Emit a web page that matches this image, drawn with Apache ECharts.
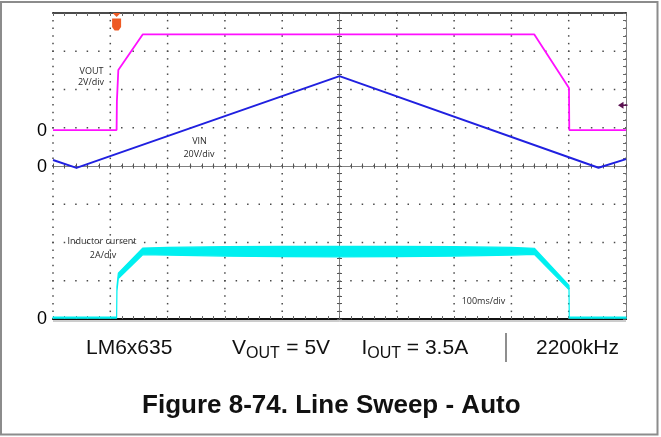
<!DOCTYPE html>
<html>
<head>
<meta charset="utf-8">
<script src="https://cdn.jsdelivr.net/npm/echarts@6/dist/echarts.min.js"></script>
<style>
  html, body { margin: 0; padding: 0; background: #fff; }
  #chart { width: 661px; height: 437px; }
</style>
</head>
<body>
<div id="chart"></div>
<script>
// Scope capture: line sweep, auto mode. Time base 100 ms/div, 10 divisions.

// VOUT trace (2 V/div)
const voutTime  = [0, 111, 111.5, 114, 156.5, 840, 900.5, 901, 1000];
const voutVolts = [0, 0, 1.5, 3.14, 5.0, 5.0, 2.2, 0, 0];

// VIN trace (20 V/div)
const vinTime  = [0, 41, 500, 952, 1000];
const vinVolts = [3.1, -1.0, 47, -0.9, 3.6];

// Inductor current (2 A/div): ripple envelope, upper and lower edge
const ilTime  = [0, 111, 111.6, 114, 156.5, 200, 300, 400, 500, 600, 700, 800, 840, 900.5, 901, 1000];
const ilUpper = [0.03, 0.03, 1.62, 2.32, 3.64, 3.67, 3.71, 3.73, 3.73, 3.73, 3.71, 3.67, 3.63, 1.68, 0.03, 0.03];
const ilLower = [-0.03, -0.03, 1.4, 2.05, 3.29, 3.27, 3.22, 3.19, 3.18, 3.19, 3.22, 3.27, 3.31, 1.47, -0.03, -0.03];

// Trigger position (ms) and trigger level (V, on VOUT)
const TRIG_TIME = 111;
const TRIG_LEVEL = 1.3;

// Screen graticule: 10 x 8 divisions, 5 minor steps per division
const MS_PER_DIV = 100;
const DIVS_X = 10;
const DIVS_Y = 8;
const MINOR = 5;

// Channel scales: [min, max] of each channel over the 8 vertical divisions
const VOUT_RANGE = [-9.88, 6.12];
const VIN_RANGE  = [-80, 80];
const IL_RANGE   = [-0.07, 15.93];
const VIN_PER_DIV = (VIN_RANGE[1] - VIN_RANGE[0]) / DIVS_Y;

const C_VOUT = '#ff10ff';
const C_VIN  = '#2020e0';
const C_IL   = '#00f0f0';
const SANS = "'Liberation Sans', Arial, sans-serif";
const LABEL_FONT = "'Open Sans', 'Noto Sans', sans-serif";

const pairs = (xs, ys) => xs.map((x, i) => [x, ys[i]]);
const hidden = { show: false };

// Inductor ripple band: the polygon between the upper and lower envelope
function renderRipple(params, api) {
  if (params.dataIndex !== 0) return null;
  const top = ilTime.map((t, i) => api.coord([t, ilUpper[i]]));
  const bottom = ilTime.map((t, i) => api.coord([t, ilLower[i]])).reverse();
  return {
    type: 'polygon',
    shape: { points: top.concat(bottom) },
    style: { fill: C_IL, stroke: C_IL, lineWidth: 1.2, lineJoin: 'round' }
  };
}

const option = {
  animation: false,
  backgroundColor: '#fff',
  grid: { left: 53, top: 13, width: 573, height: 306 },
  xAxis: [
    { // 0: time axis
      type: 'value', min: 0, max: DIVS_X * MS_PER_DIV, interval: MS_PER_DIV,
      axisLine: { show: false, onZero: false }, axisTick: hidden, axisLabel: hidden, splitLine: hidden
    },
    { // 1: top frame
      type: 'value', min: 0, max: 1000, interval: 20, position: 'top',
      axisLine: { show: true, onZero: false, lineStyle: { color: '#111', width: 1.5 } },
      axisTick: { show: true, inside: true, length: 3, lineStyle: { color: '#666' } },
      axisLabel: hidden, splitLine: hidden
    },
    { // 2: bottom frame
      type: 'value', min: 0, max: 1000, interval: 20, position: 'bottom',
      axisLine: { show: true, onZero: false, lineStyle: { color: '#111', width: 2 } },
      axisTick: { show: true, inside: true, length: 3, lineStyle: { color: '#666' } },
      axisLabel: hidden, splitLine: hidden
    },
    { // 3: horizontal centre line, ticks upward
      type: 'value', min: 0, max: 1000, interval: 20, position: 'bottom',
      axisLine: { show: true, onZero: true, onZeroAxisIndex: 2, lineStyle: { color: '#808080', width: 1 } },
      axisTick: { show: true, inside: true, length: 2.5, lineStyle: { color: '#555' } },
      axisLabel: hidden, splitLine: hidden
    },
    { // 4: horizontal centre line, ticks downward
      type: 'value', min: 0, max: 1000, interval: 20, position: 'bottom',
      axisLine: { show: true, onZero: true, onZeroAxisIndex: 2, lineStyle: { color: '#808080', width: 1 } },
      axisTick: { show: true, inside: false, length: 2.5, lineStyle: { color: '#555' } },
      axisLabel: hidden, splitLine: hidden
    },
    { // 5: centred reference for the vertical centre line
      type: 'value', min: -500, max: 500, show: false,
      axisLine: { onZero: false }
    }
  ],
  yAxis: [
    { // 0: vertical divisions
      type: 'value', min: 0, max: DIVS_Y, interval: 1, show: false,
      axisLine: { show: false, onZero: false }, splitLine: hidden
    },
    { // 1: VOUT
      type: 'value', min: VOUT_RANGE[0], max: VOUT_RANGE[1], show: false,
      axisLine: { onZero: false }, splitLine: hidden
    },
    { // 2: VIN
      type: 'value', min: VIN_RANGE[0], max: VIN_RANGE[1], show: false,
      axisLine: { onZero: false }, splitLine: hidden
    },
    { // 3: inductor current
      type: 'value', min: IL_RANGE[0], max: IL_RANGE[1], show: false,
      axisLine: { onZero: false }, splitLine: hidden
    },
    { // 4: right frame
      type: 'value', min: 0, max: 40, interval: 1, position: 'right',
      axisLine: { show: true, onZero: false, lineStyle: { color: '#808080', width: 1 } },
      axisTick: { show: true, inside: true, length: 3, lineStyle: { color: '#666' } },
      axisLabel: hidden, splitLine: hidden
    },
    { // 5: vertical centre line, ticks right
      type: 'value', min: 0, max: 40, interval: 1, position: 'left',
      axisLine: { show: true, onZero: true, onZeroAxisIndex: 5, lineStyle: { color: '#808080', width: 1 } },
      axisTick: { show: true, inside: true, length: 2.5, lineStyle: { color: '#555' } },
      axisLabel: hidden, splitLine: hidden
    },
    { // 6: vertical centre line, ticks left
      type: 'value', min: 0, max: 40, interval: 1, position: 'left',
      axisLine: { show: true, onZero: true, onZeroAxisIndex: 5, lineStyle: { color: '#808080', width: 1 } },
      axisTick: { show: true, inside: false, length: 2.5, lineStyle: { color: '#555' } },
      axisLabel: hidden, splitLine: hidden
    }
  ],
  series: [
    {
      name: 'VIN', type: 'line', xAxisIndex: 0, yAxisIndex: 2,
      data: pairs(vinTime, vinVolts), showSymbol: false, z: 3,
      lineStyle: { color: C_VIN, width: 2 }
    },
    {
      name: 'Inductor current', type: 'custom', xAxisIndex: 0, yAxisIndex: 3,
      data: ilTime.map((t, i) => [t, ilUpper[i], ilLower[i]]),
      encode: { x: 0, y: [1, 2] },
      renderItem: renderRipple, z: 4, silent: true
    },
    {
      name: 'VOUT', type: 'line', xAxisIndex: 0, yAxisIndex: 1,
      data: pairs(voutTime, voutVolts), showSymbol: false, z: 5,
      lineStyle: { color: C_VOUT, width: 1.8 }
    }
  ]
};

const chart = echarts.init(document.getElementById('chart'));
chart.setOption(option);

// pixel position of a time value and of a vertical division (on the VIN scale)
const px = (t) => chart.convertToPixel({ xAxisIndex: 0 }, t);
const py = (div) => chart.convertToPixel({ yAxisIndex: 2 }, VIN_RANGE[0] + div * VIN_PER_DIV);

const trigX = px(TRIG_TIME);
const levelY = chart.convertToPixel({ yAxisIndex: 1 }, TRIG_LEVEL);
const zeroVout = chart.convertToPixel({ yAxisIndex: 1 }, 0);
const zeroVin = chart.convertToPixel({ yAxisIndex: 2 }, 0);
const zeroIl = chart.convertToPixel({ yAxisIndex: 3 }, 0);

// Dotted division lines: one dot per minor step along every division line
const dots = [];
function addDot(x, y) {
  if (!isFinite(x) || !isFinite(y)) return;
  dots.push({
    type: 'rect', silent: true,
    shape: { x: x - 0.75, y: y - 0.75, width: 1.5, height: 1.5 },
    style: { fill: '#4a4a4a' }
  });
}
for (let i = 0; i <= DIVS_X; i++) {
  const x = px(i * MS_PER_DIV);
  for (let k = 0; k <= DIVS_Y * MINOR; k++) addDot(x, py(k / MINOR));
}
for (let j = 1; j < DIVS_Y; j++) {
  const y = py(j);
  for (let k = 0; k <= DIVS_X * MINOR; k++) addDot(px(k * MS_PER_DIV / MINOR), y);
}

function txt(x, y, text, size, opts) {
  return {
    type: 'text', x: x, y: y, z: 10,
    style: Object.assign({
      text: text, fontSize: size, fontFamily: SANS, fill: '#111',
      align: 'left', verticalAlign: 'middle'
    }, opts || {})
  };
}
function note(x, y, text) {
  return txt(x, y, text, 9, { fontFamily: LABEL_FONT, fill: '#2a2a2a', align: 'center' });
}

const graphics = [
  // graticule dots
  { type: 'group', z: 0, children: dots },

  // outer frame
  { type: 'rect', z: 1, shape: { x: 1, y: 2, width: 656.5, height: 432.5 },
    style: { fill: 'none', stroke: '#8c8c8c', lineWidth: 2 } },
  // shadow line under the bottom of the screen
  { type: 'line', z: 1, shape: { x1: 53, y1: 321, x2: 626, y2: 321 },
    style: { stroke: '#9a9a9a', lineWidth: 1 } },

  // channel zero markers
  txt(42, zeroVout + 1, '0', 18, { align: 'center', fill: '#000' }),
  txt(42, zeroVin + 1.5, '0', 18, { align: 'center', fill: '#000' }),
  txt(42, zeroIl + 1, '0', 18, { align: 'center', fill: '#000' }),

  // channel annotations
  note(91.5, 71, 'VOUT'),
  note(91, 82.5, '2V/div'),
  note(199.5, 141.7, 'VIN'),
  note(199, 154, '20V/div'),
  note(102, 241.7, 'Inductor current'),
  note(103, 255, '2A/div'),
  note(483.5, 301.3, '100ms/div'),

  // trigger position marker
  { type: 'polygon', z: 12,
    shape: { points: [[trigX - 4, 13], [trigX + 4, 13], [trigX, 17]] },
    style: { fill: '#ee5a24' } },
  { type: 'polygon', z: 12,
    shape: { points: [[trigX - 4.5, 18.5], [trigX + 4.5, 18.5], [trigX + 4.5, 27], [trigX + 2, 30.5], [trigX - 2, 30.5], [trigX - 4.5, 27]] },
    style: { fill: '#ee5a24' } },
  txt(trigX, 24.5, 'T', 9, { align: 'center', fill: '#fff', fontWeight: 'bold' }),

  // trigger level marker
  { type: 'polygon', z: 12,
    shape: { points: [[618, levelY], [623.5, levelY - 3.5], [623.5, levelY + 3.5]] },
    style: { fill: '#5a1050' } },
  { type: 'line', z: 12, shape: { x1: 622, y1: levelY, x2: 627.5, y2: levelY },
    style: { stroke: '#5a1050', lineWidth: 1.5 } },

  // operating conditions
  txt(86, 348.3, 'LM6x635', 21),
  txt(232, 348.3, 'V', 21),
  txt(246, 354, 'OUT', 16),
  txt(280.5, 348.3, ' = 5V', 21),
  txt(361.5, 348.3, 'I', 21),
  txt(367.3, 354, 'OUT', 16),
  txt(401, 348.3, ' = 3.5A', 21),
  { type: 'line', z: 10, shape: { x1: 506, y1: 333, x2: 506, y2: 362 },
    style: { stroke: '#444', lineWidth: 1.2 } },
  txt(536, 348.3, '2200kHz', 21),

  // caption
  txt(331.3, 405.6, 'Figure 8-74. Line Sweep - Auto', 26, { align: 'center', fontWeight: 'bold' })
];

chart.setOption({ graphic: graphics });
</script>
</body>
</html>
